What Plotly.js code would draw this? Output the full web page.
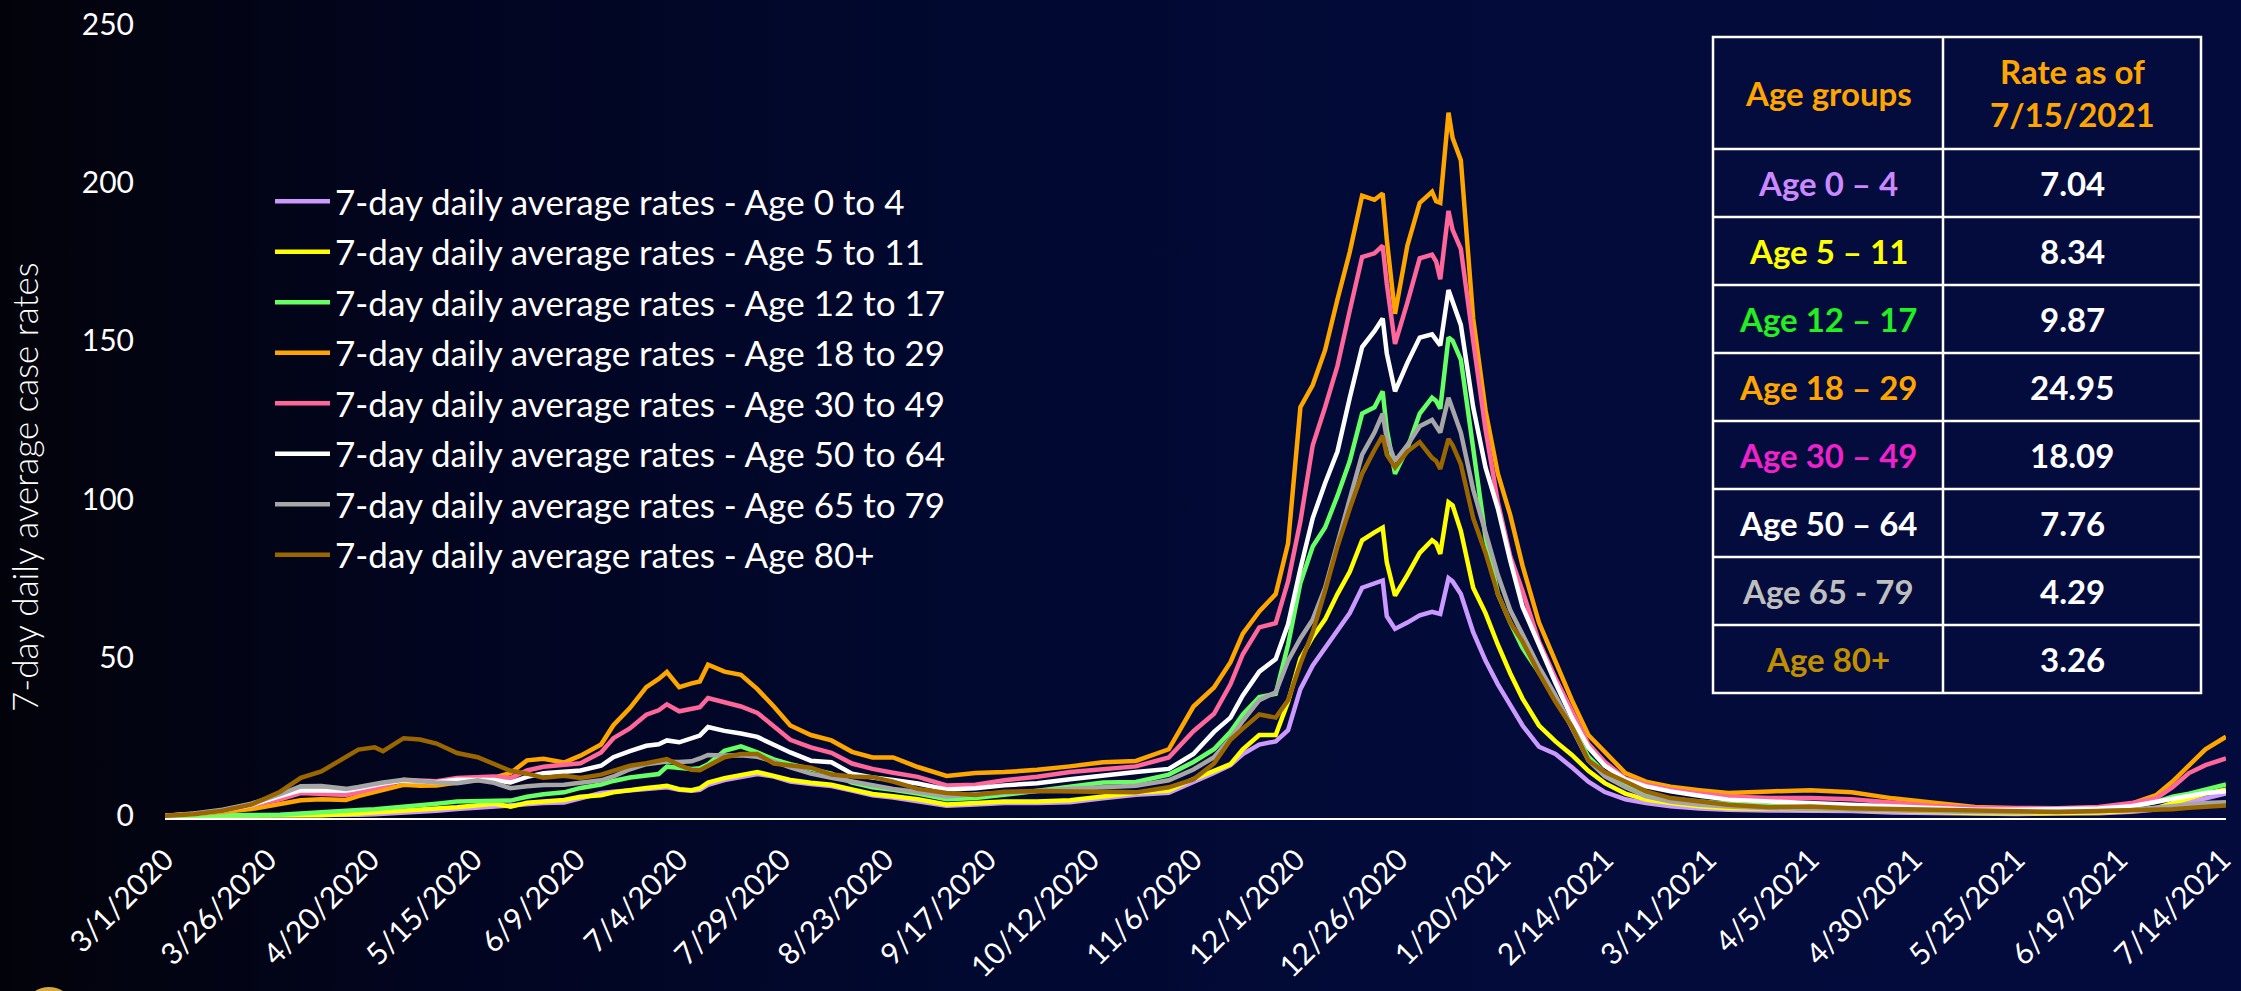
<!DOCTYPE html>
<html>
<head>
<meta charset="utf-8">
<script src="https://cdn.plot.ly/plotly-3.0.1.min.js"></script>
<style>
html,body{margin:0;padding:0;background:#02030b;}
#chart{width:2241px;height:991px;background:linear-gradient(to right,#02030a 0%,#020520 20%,#010931 45%,#020b3a 70%,#020b3b 100%);}
</style>
</head>
<body>
<div id="chart"></div>
<script>
// ---------------- DATA ----------------
const dates = [
 '2020-03-01','2020-03-08','2020-03-15','2020-03-22','2020-03-29','2020-04-03','2020-04-08','2020-04-14','2020-04-17','2020-04-21',
 '2020-04-23','2020-04-28','2020-05-02','2020-05-06','2020-05-11','2020-05-16','2020-05-20','2020-05-24','2020-05-28','2020-06-01',
 '2020-06-06','2020-06-10','2020-06-15','2020-06-18','2020-06-22','2020-06-26','2020-06-29','2020-07-01','2020-07-04','2020-07-07',
 '2020-07-09','2020-07-11','2020-07-15','2020-07-19','2020-07-23','2020-07-27','2020-07-31','2020-08-05','2020-08-10','2020-08-15',
 '2020-08-20','2020-08-25','2020-08-31','2020-09-07','2020-09-14','2020-09-21','2020-09-29','2020-10-07','2020-10-15','2020-10-23',
 '2020-10-31','2020-11-06','2020-11-11','2020-11-15','2020-11-18','2020-11-22','2020-11-26','2020-11-29','2020-12-02','2020-12-05',
 '2020-12-08','2020-12-11','2020-12-14','2020-12-17','2020-12-20','2020-12-22','2020-12-23','2020-12-25','2020-12-28','2020-12-31',
 '2021-01-03','2021-01-04','2021-01-05','2021-01-07','2021-01-08','2021-01-10','2021-01-13','2021-01-16','2021-01-19','2021-01-22',
 '2021-01-25','2021-01-29','2021-02-02','2021-02-06','2021-02-10','2021-02-14','2021-02-19','2021-02-24','2021-03-02','2021-03-09',
 '2021-03-16','2021-03-26','2021-04-05','2021-04-15','2021-04-25','2021-05-05','2021-05-15','2021-05-25','2021-06-04','2021-06-14',
 '2021-06-22','2021-06-28','2021-07-02','2021-07-06','2021-07-10','2021-07-15'
];

const age0to4 = [
 0,0,0,0,0,0,0.1,0.2,0.3,0.5,
 0.6,1.0,1.3,1.6,2.1,2.6,3.0,3.5,3.8,4.0,
 4.2,5.5,7.2,7.6,8.0,8.5,8.8,9.0,8.2,7.9,
 8.2,9.8,11.3,12.2,13.2,12.4,10.8,10.0,9.4,8.0,
 6.5,5.8,4.6,3.2,3.6,4.0,4.0,4.3,5.5,6.6,
 7.3,10.6,13.5,16.0,19.5,22.5,23.5,27,40,47.5,
 53,58.5,64,72,73.5,74.3,63,59,61,63.3,
 64.4,64,63.7,75,74,70,58,49,41.5,35,
 28.5,21.8,19.5,15.3,10.8,7.5,5.2,4.0,3.0,2.3,
 1.9,1.7,1.7,1.5,1.0,0.8,0.6,0.6,0.7,0.8,
 1.3,2.0,3.0,4.2,5.5,7.04
];
const age5to11 = [
 0,0,0,0,0,0.1,0.2,0.5,0.7,1.0,
 1.2,1.7,2.0,2.3,2.7,3.3,3.8,2.9,4.1,4.5,
 5.0,6.0,6.5,7.4,8.2,8.8,9.2,9.5,8.4,8.1,
 8.7,10.5,11.9,12.8,13.8,12.6,11.3,10.4,9.8,8.3,
 6.9,6.2,5.2,3.6,4.1,4.5,4.5,4.9,6.1,7.3,
 8.0,11.6,14.2,16.3,21,25.5,25.5,36,49.6,56.5,
 62,70,77,87,89.5,91,80,69.5,76,83,
 87,86,82.7,99,98,90,72,64,54,45,
 37,28.5,23.5,19.2,14.2,10.3,7.0,5.1,4.0,3.0,
 2.4,2.1,2.1,1.9,1.5,1.2,0.9,0.8,0.8,1.0,
 1.6,2.4,4.0,5.5,7.0,8.34
];
const age12to17 = [
 0,0,0,0.1,0.3,0.7,1.2,1.6,1.8,2.1,
 2.3,2.9,3.3,3.8,4.5,4.6,4.7,4.8,6.0,6.8,
 7.4,8.8,9.9,11.0,12.1,12.8,13.2,15.5,15.2,14.8,
 15.0,16.3,20.5,21.9,20.0,17.8,16.3,14.8,13.3,10.5,
 9.0,8.2,7.0,5.2,5.6,6.6,8.0,9.4,10.5,10.7,
 13.0,17.0,21.0,26.5,32.0,37.5,38.5,54,73.5,85,
 91,101,112,127,129,134,122,108,116,127,
 132,131,128.5,151,150,144,116,88,70,61,
 53,45,37.5,28,18.7,13.5,9.7,6.6,5.4,4.5,
 3.8,3.2,3.5,3.2,2.5,2.0,1.7,1.7,1.8,2.1,
 2.8,4.4,6.0,7.0,8.2,9.87
];
const age18to29 = [
 0,0.5,1.2,2.1,3.6,4.9,5.2,5.0,6.2,7.6,
 8.0,9.8,9.5,9.6,10.5,11.3,12.0,13.5,17.5,18.0,
 16.8,19.0,22.5,28.6,34.0,40.6,43.2,45.4,40.6,41.8,
 42.4,47.7,45.5,44.5,40.0,34.5,28.5,25.5,23.8,20.2,
 18.4,18.4,15.4,12.6,13.5,13.8,14.5,15.6,16.9,17.3,
 21.0,34.5,40.5,48.5,57.5,64.5,70.0,86.0,129.0,136.0,
 147.0,163.0,178.0,195.8,194.5,196.5,182.0,158.5,180.0,193.5,
 197.0,194.0,193.5,222.0,214.0,207.0,157.0,128.0,108.0,95.0,
 79.0,61.0,48.5,36.5,25.5,20.0,13.5,10.8,9.2,8.1,
 7.2,7.7,8.1,7.4,5.5,4.1,2.8,2.4,2.4,2.4,
 3.8,6.5,10.8,16.0,21.0,24.95
];
const age30to49 = [
 0,0.5,1.5,3.3,5.2,7.2,7.0,6.6,7.5,8.8,
 9.4,11.4,11.0,10.9,11.9,12.2,12.4,11.9,14.3,15.5,
 16.1,16.6,20.0,24.5,27.6,31.9,33.3,35.2,33.0,33.6,
 34.3,37.2,35.8,34.5,32.5,28.4,24.0,21.6,19.9,16.5,
 14.8,13.6,12.3,9.6,9.8,11.2,12.3,13.8,14.8,15.6,
 18.4,26.7,32.2,41.5,51,59.5,60.8,74,93,117,
 129,142,159.5,176.4,177.6,180,168,149,162,176,
 177.2,175,169.4,191,185,179,150,122,99,82,
 71,55,43.5,33,22.7,17,11.8,9.8,8.2,7.0,
 6.1,5.6,5.6,5.2,4.1,3.1,2.5,2.4,2.4,2.8,
 4.0,5.5,9.0,13.5,16.0,18.09
];
const age50to64 = [
 0,0.5,1.6,3.4,6.2,8.0,8.0,7.9,8.6,9.7,
 10.2,11.1,10.8,10.6,11.4,11.4,11.3,10.5,12.3,13.4,
 14.0,14.3,15.8,18.5,20.4,22.1,22.6,23.8,23.2,24.3,
 25.3,28.0,26.8,26.0,24.9,22.4,20.0,17.4,16.9,13.3,
 12.1,11.3,10.2,8.3,8.7,9.6,10.3,11.5,12.8,13.8,
 14.8,19.5,26.5,31.0,38.0,45.5,49.5,60.5,78,94,
 105,115,132,148,153,157,146,134,143,151,
 152,150,148.5,166,162,155,129,110,97,80.6,
 66,54,42,31,21.6,15.8,11.5,9.3,7.7,6.3,
 5.1,4.5,4.0,3.6,2.9,2.3,1.9,1.9,2.0,2.3,
 3.0,4.4,5.6,6.6,7.2,7.76
];
const age65to79 = [
 0,0.7,1.9,3.8,6.8,9.3,9.4,8.5,9.1,10.2,
 10.5,11.4,10.9,10.5,10.3,11.2,10.4,8.7,9.3,9.7,
 9.8,10.4,11.2,12.4,14.7,16.3,16.9,17.1,17.0,17.2,
 18.1,19.2,19.0,19.1,18.6,17.2,15.3,13.3,12.0,10.8,
 9.5,8.5,7.5,6.1,6.8,7.2,7.8,8.5,8.9,9.5,
 11.2,14.6,18.5,24.5,30,36.5,39,49,56,62,
 72,86,101,114,121,127,119,112,117,123,
 125,123,121,132,128,121,103,90,76,65,
 57,47,38,28,17.5,12.5,9.0,6.1,4.5,3.5,
 2.9,2.4,2.1,1.9,1.7,1.5,1.2,1.1,1.2,1.4,
 1.8,2.5,3.1,3.6,4.0,4.29
];
const age80plus = [
 0,0.5,1.6,3.5,7.6,12.0,14.0,18.7,20.9,21.6,
 20.4,24.5,24.1,22.8,19.8,18.5,16.4,14.2,13.3,12.0,
 12.6,11.9,13.0,14.1,15.8,16.6,17.3,17.9,16.0,14.5,
 14.4,15.8,18.5,19.5,19.5,16.5,16.0,15.2,13.0,12.4,
 12.2,10.8,8.5,7.2,6.6,7.6,7.8,7.6,7.6,7.4,
 9.0,11.5,16.5,24,27.5,32.0,31.0,36.5,48,58,
 71,85,97,108,115.5,120,114,110,115,118,
 113,112,109.5,119,117,111,94,83,70,61,
 55,45,36,28,17.5,13.8,10.8,7.7,5.6,4.4,
 3.5,2.7,2.9,2.4,2.1,1.8,1.5,1.2,1.2,1.5,
 1.7,1.8,2.1,2.5,2.9,3.26
];

const seriesNames = [
 '7-day daily average rates - Age 0 to 4',
 '7-day daily average rates - Age 5 to 11',
 '7-day daily average rates - Age 12 to 17',
 '7-day daily average rates - Age 18 to 29',
 '7-day daily average rates - Age 30 to 49',
 '7-day daily average rates - Age 50 to 64',
 '7-day daily average rates - Age 65 to 79',
 '7-day daily average rates - Age 80+'
];
const lineColors = ['#CC99FF','#FFFF00','#66FF66','#FFA500','#FF6699','#FFFFFF','#A6A6A6','#996600'];

const tickDates = ['2020-03-01','2020-03-26','2020-04-20','2020-05-15','2020-06-09','2020-07-04','2020-07-29','2020-08-23',
 '2020-09-17','2020-10-12','2020-11-06','2020-12-01','2020-12-26','2021-01-20','2021-02-14','2021-03-11','2021-04-05',
 '2021-04-30','2021-05-25','2021-06-19','2021-07-14'];
const tickLabels = ['3/1/2020','3/26/2020','4/20/2020','5/15/2020','6/9/2020','7/4/2020','7/29/2020','8/23/2020',
 '9/17/2020','10/12/2020','11/6/2020','12/1/2020','12/26/2020','1/20/2021','2/14/2021','3/11/2021','4/5/2021',
 '4/30/2021','5/25/2021','6/19/2021','7/14/2021'];
const yTickVals = [0,50,100,150,200,250];
const yAxisTitle = '7-day daily average case rates';

const tableHeader = ['Age groups','Rate as of<br>7/15/2021'];
const tableGroups = ['Age 0 – 4','Age 5 – 11','Age 12 – 17','Age 18 – 29','Age 30 – 49','Age 50 – 64','Age 65 - 79','Age 80+'];
const tableRates = ['7.04','8.34','9.87','24.95','18.09','7.76','4.29','3.26'];
const tableGroupColors = ['#CC88FF','#FFFF00','#22EE22','#FFA500','#EE22CC','#FFFFFF','#BFBFBF','#BF8F00'];
const tableHeaderColor = '#FFA500';

// ---------------- LAYOUT GEOMETRY ----------------
const W = 2241, H = 991;
const M = {l:165, r:15, t:24, b:173};
const PW = W - M.l - M.r, PH = H - M.t - M.b;
const px2x = px => (px - M.l) / PW;
const px2y = py => (H - M.b - py) / PH;

const T = {left:1713, mid:1943, right:2201, top:37, headBottom:149, rowH:68};
const tBottom = T.headBottom + T.rowH * tableGroups.length;

const seriesValues = [age0to4, age5to11, age12to17, age18to29, age30to49, age50to64, age65to79, age80plus];
const traces = seriesValues.map((vals, i) => ({
  type:'scatter', mode:'lines', x:dates, y:vals, name:seriesNames[i], legendgroup:'g' + i,
  line:{color:lineColors[i], width:4.5}, hoverinfo:'skip'
}));

const shapes = [];
shapes.push({type:'rect', xref:'paper', yref:'paper', x0:px2x(T.left), x1:px2x(T.right), y0:px2y(T.top), y1:px2y(tBottom),
  fillcolor:'#030c3d', line:{color:'#ffffff', width:2.5}, layer:'above'});
shapes.push({type:'line', xref:'paper', yref:'paper', x0:px2x(T.mid), x1:px2x(T.mid), y0:px2y(T.top), y1:px2y(tBottom),
  line:{color:'#ffffff', width:2.5}, layer:'above'});
for (let k = 0; k < tableGroups.length; k++) {
  const yy = T.headBottom + k*T.rowH;
  shapes.push({type:'line', xref:'paper', yref:'paper', x0:px2x(T.left), x1:px2x(T.right), y0:px2y(yy), y1:px2y(yy),
    line:{color:'#ffffff', width:2.5}, layer:'above'});
}
// small cut-off logo sliver at bottom-left
shapes.push({type:'circle', xref:'paper', yref:'paper', x0:px2x(30), x1:px2x(68), y0:px2y(987), y1:px2y(1013),
  fillcolor:'#d9a83a', line:{width:0}});

const annotations = [];
annotations.push({xref:'paper', yref:'paper', x:px2x(24), y:px2y(487), text:yAxisTitle, textangle:-90, showarrow:false,
  xanchor:'center', yanchor:'middle', font:{family:'Lato', size:35, color:'#ffffff', weight:300}});
const colCenters = [(T.left + T.mid)/2, (T.mid + T.right)/2];
tableHeader.forEach((h, j) => {
  annotations.push({xref:'paper', yref:'paper', x:px2x(colCenters[j]), y:px2y((T.top + T.headBottom)/2), text:h,
    showarrow:false, xanchor:'center', yanchor:'middle',
    font:{family:'Lato', size:33, color:tableHeaderColor, weight:'bold'}});
});
tableGroups.forEach((g, i) => {
  const cy = T.headBottom + (i + 0.5)*T.rowH;
  annotations.push({xref:'paper', yref:'paper', x:px2x(colCenters[0]), y:px2y(cy), text:g, showarrow:false,
    xanchor:'center', yanchor:'middle', font:{family:'Lato', size:33, color:tableGroupColors[i], weight:'bold'}});
  annotations.push({xref:'paper', yref:'paper', x:px2x(colCenters[1]), y:px2y(cy), text:tableRates[i], showarrow:false,
    xanchor:'center', yanchor:'middle', font:{family:'Lato', size:33, color:'#ffffff', weight:'bold'}});
});

const layout = {
  width:W, height:H, margin:M,
  paper_bgcolor:'rgba(0,0,0,0)', plot_bgcolor:'rgba(0,0,0,0)',
  showlegend:true,
  legend:{x:px2x(270), y:px2y(172), xanchor:'left', yanchor:'top', bgcolor:'rgba(0,0,0,0)', borderwidth:0,
    font:{family:'Lato', size:35, color:'#ffffff'}, itemwidth:55, traceorder:'grouped', tracegroupgap:2},
  xaxis:{type:'date', range:['2020-03-01','2021-07-15'], tickmode:'array', tickvals:tickDates, ticktext:tickLabels,
    tickangle:-45, tickfont:{family:'Lato', size:30, color:'#ffffff'}, showgrid:false, zeroline:false,
    showline:true, linecolor:'#ffffff', linewidth:2, ticks:'', ticklabelstandoff:10, fixedrange:true},
  yaxis:{range:[-0.7,250], tickmode:'array', tickvals:yTickVals, tickfont:{family:'Lato', size:30, color:'#ffffff'},
    showgrid:false, zeroline:false, showline:false, ticks:'', ticklabelstandoff:30, fixedrange:true},
  shapes:shapes, annotations:annotations
};

Plotly.newPlot('chart', traces, layout, {staticPlot:true, displayModeBar:false});
</script>
</body>
</html>
